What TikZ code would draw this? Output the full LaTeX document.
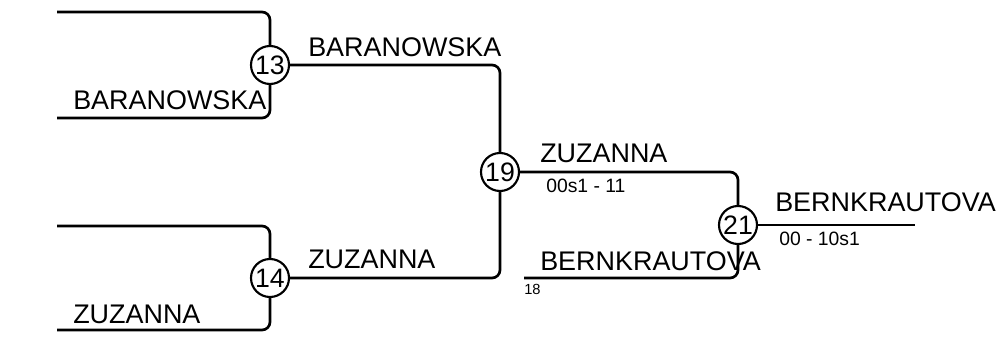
\documentclass[tikz,border=0pt]{standalone}
\usepackage{fontspec}
\setmainfont{Liberation Sans}
\begin{document}
\begin{tikzpicture}[x=0.75pt,y=-0.75pt,
  wire/.style={line width=2pt,rounded corners=6pt},
  match/.style={circle,draw,line width=1.6pt,minimum size=28.5pt,inner sep=0pt,font=\fontsize{20}{20}\selectfont,fill=white},
  pname/.style={anchor=base west,inner sep=0pt,font=\fontsize{20.2}{20.2}\selectfont},
  score/.style={anchor=base west,inner sep=0pt,font=\fontsize{14.5}{14.5}\selectfont},
  tiny/.style={anchor=base west,inner sep=0pt,font=\fontsize{11}{11}\selectfont}]
\useasboundingbox (0,0) rectangle (1002,338);
% coordinates
\coordinate (a13) at (57,12);
\coordinate (b13) at (57,118);
\coordinate (a14) at (57,226);
\coordinate (b14) at (57,330);
\coordinate (s18) at (524,278);
\coordinate (fin) at (915,225);
% wires
\draw[wire] (a13) -- (270,12) -- (270,65);
\draw[wire] (b13) -- (270,118) -- (270,65);
\draw[wire] (a14) -- (270,226) -- (270,278);
\draw[wire] (b14) -- (270,330) -- (270,278);
\draw[wire] (270,65) -- (500,65) -- (500,172);
\draw[wire] (270,278) -- (500,278) -- (500,172);
\draw[wire] (500,172) -- (738,172) -- (738,225);
\draw[wire] (s18) -- (738,278) -- (738,225);
\draw[wire] (738,225) -- (fin);
% matches
\node[match] (m13) at (270,65) {13};
\node[match] (m14) at (270,278) {14};
\node[match] (m19) at (500,172) {19};
\node[match] (m21) at (738,225) {21};
% names
\node[pname] (n1) at (73,110) {BARANOWSKA};
\node[pname] (n2) at (308,57) {BARANOWSKA};
\node[pname] (n3) at (73,323) {ZUZANNA};
\node[pname] (n4) at (308,268) {ZUZANNA};
\node[pname] (n5) at (540,163) {ZUZANNA};
\node[pname] (n6) at (540,270) {BERNKRAUTOVA};
\node[pname] (n7) at (775,212) {BERNKRAUTOVA};
\node[score] (s1) at (546,193) {00s1 - 11};
\node[score] (s2) at (779,245) {00 - 10s1};
\node[tiny] (t18) at (524,294) {18};
\end{tikzpicture}
\end{document}
